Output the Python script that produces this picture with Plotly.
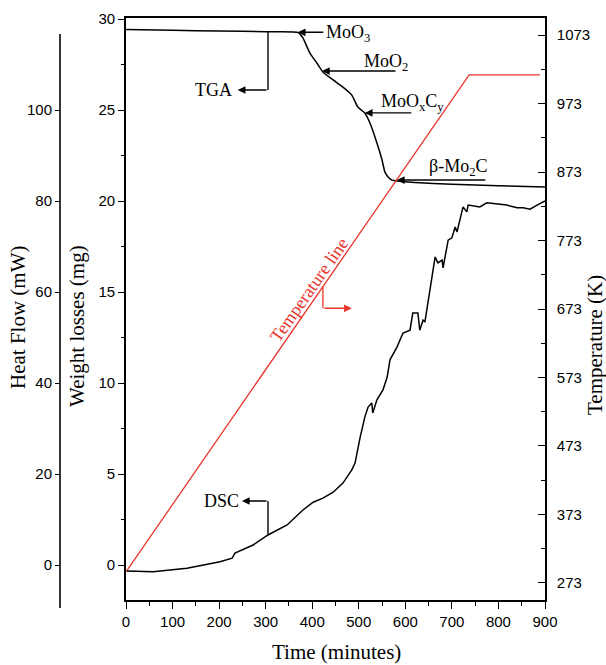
import plotly.graph_objects as go

# ---------------- data ----------------
time_tga = [0, 100, 200, 300, 370, 380, 395, 410, 423, 445, 466, 485, 498, 513,
            524, 539, 550, 556, 563, 571, 582, 620, 700, 800, 900]
weight_tga = [29.42, 29.38, 29.34, 29.30, 29.26, 28.96, 28.13, 27.58, 27.09, 26.65,
              26.26, 25.82, 25.16, 24.84, 24.29, 23.19, 22.25, 21.60, 21.32, 21.15,
              21.10, 21.02, 20.92, 20.84, 20.77]

time_dsc = [2, 58, 131, 202, 228, 234, 273, 305, 346, 380, 402, 423, 445, 466, 485,
            492, 503, 513, 520, 528, 530, 539, 552, 561, 567, 582, 595, 610, 616,
            627, 631, 638, 642, 653, 664, 670, 679, 681, 692, 700, 707, 711, 717,
            724, 732, 735, 760, 775, 818, 840, 853, 868, 883, 900]
heat_dsc = [-1.3, -1.5, -0.7, 0.7, 1.5, 2.6, 4.4, 6.6, 8.8, 12.1, 13.8, 14.7, 16.0,
            18.0, 20.9, 22.4, 28.1, 32.5, 34.7, 35.6, 33.4, 36.3, 38.5, 41.3, 45.1,
            47.9, 51.0, 51.6, 55.4, 55.4, 51.6, 53.8, 53.4, 61.1, 67.7, 66.4, 67.0,
            65.3, 71.4, 71.9, 74.3, 73.2, 75.8, 78.7, 77.6, 79.1, 78.7, 79.6, 79.1,
            78.5, 78.5, 78.2, 79.1, 80.0]

time_temp = [0, 737, 889]
temp_k = [289, 1015, 1015]

x_ticks = list(range(0, 901, 100))
x_minor = list(range(50, 900, 100))
weight_ticks = [0, 5, 10, 15, 20, 25, 30]
weight_minor = [2.5, 7.5, 12.5, 17.5, 22.5, 27.5]
heat_ticks = [0, 20, 40, 60, 80, 100]
temp_ticks = list(range(273, 1074, 100))
temp_minor = list(range(323, 1074, 100))

# ---------------- layout helpers ----------------
W, H = 606, 665
OFF = 0            # body margin removed by post_script below
TOP, BOT = 18, 600  # plot box top / bottom on screen
MT = TOP - OFF
MB = H - (BOT - OFF)
PH = H - MT - MB


def px(xp):
    return (xp - OFF) / W


def py(yp):
    return (BOT - yp) / PH


SANS = "Liberation Sans, Arial, sans-serif"
SERIF = "Liberation Serif, Times New Roman, serif"
RED = "#e8362d"

fig = go.Figure()
fig.add_trace(go.Scatter(x=time_tga, y=weight_tga, mode="lines", yaxis="y",
                         line=dict(color="black", width=1.5, shape="spline", smoothing=0.5),
                         showlegend=False, hoverinfo="skip"))
fig.add_trace(go.Scatter(x=time_dsc, y=heat_dsc, mode="lines", yaxis="y3",
                         line=dict(color="black", width=1.5),
                         showlegend=False, hoverinfo="skip"))
fig.add_trace(go.Scatter(x=time_temp, y=temp_k, mode="lines", yaxis="y2",
                         line=dict(color=RED, width=1.3),
                         showlegend=False, hoverinfo="skip"))

tickfont = dict(family=SANS, size=15, color="black")

fig.update_layout(
    width=W, height=H,
    margin=dict(l=0, r=0, t=MT, b=MB, autoexpand=False),
    paper_bgcolor="white", plot_bgcolor="white",
    xaxis=dict(domain=[px(126), px(545)], range=[0, 900], tickmode="array",
               tickvals=x_ticks, ticks="outside", ticklen=7, tickwidth=1.3,
               tickcolor="black", showline=True, linewidth=1.6, linecolor="black",
               mirror=True, showgrid=False, zeroline=False, tickfont=tickfont,
               automargin=False,
               minor=dict(tickvals=x_minor, ticks="outside", ticklen=4,
                          tickwidth=1.2, tickcolor="black", showgrid=False)),
    yaxis=dict(range=[-1.923, 30.055], tickmode="array", tickvals=weight_ticks,
               ticks="outside", ticklen=6, tickwidth=1.3, tickcolor="black",
               showline=True, linewidth=1.6, linecolor="black", showgrid=False,
               zeroline=False, tickfont=tickfont, automargin=False,
               minor=dict(tickvals=weight_minor, ticks="outside", ticklen=3,
                          tickwidth=1.2, tickcolor="black", showgrid=False)),
    yaxis2=dict(overlaying="y", side="right", anchor="x", range=[248, 1098],
                tickmode="array", tickvals=temp_ticks, ticks="inside", ticklen=7,
                tickwidth=1.3, tickcolor="black", showline=True, linewidth=1.6,
                linecolor="black", showgrid=False, zeroline=False,
                tickfont=tickfont, automargin=False, ticklabelstandoff=7,
                minor=dict(tickvals=temp_minor, ticks="inside", ticklen=4,
                           tickwidth=1.2, tickcolor="black", showgrid=False)),
    yaxis3=dict(overlaying="y", side="left", anchor="free", position=px(60),
                range=[-7.69, 120.22], tickmode="array", tickvals=heat_ticks,
                ticks="outside", ticklen=5, tickwidth=1.3, tickcolor="black",
                showline=False, showgrid=False, zeroline=False,
                tickfont=tickfont, automargin=False),
)

# separate heat-flow axis line (extends slightly beyond the plot box)
fig.add_shape(type="line", xref="paper", yref="paper", x0=px(60), x1=px(60),
              y0=py(608), y1=py(34), line=dict(color="black", width=1.6))

# axis titles
title_font = dict(family=SERIF, size=21, color="black")


def title(text, xp, yp, angle=0):
    fig.add_annotation(text=text, xref="paper", yref="paper", x=px(xp), y=py(yp),
                       xanchor="center", yanchor="middle", showarrow=False,
                       textangle=angle, font=title_font)


title("Time (minutes)", 336, 652)
title("Heat Flow (mW)", 18, 318, -90)
title("Weight losses (mg)", 77, 326, -90)
title("Temperature (K)", 595, 345, -90)


def arrow(tip_x, tip_y, tail_x, tail_y, yref="y", color="black"):
    fig.add_annotation(x=tip_x, y=tip_y, ax=tail_x, ay=tail_y, xref="x", yref=yref,
                       axref="x", ayref=yref, text="", showarrow=True,
                       arrowhead=2, arrowsize=1.1, arrowwidth=1.4, arrowcolor=color)


def label(text, x, y, yref="y", xanchor="center", color="black", angle=0, size=18):
    fig.add_annotation(x=x, y=y, xref="x", yref=yref, text=text, showarrow=False,
                       xanchor=xanchor, yanchor="middle", textangle=angle,
                       font=dict(family=SERIF, size=size, color=color))


# phase labels on TGA
arrow(369, 29.27, 427, 29.27)
label("MoO<sub>3</sub>", 425, 29.22, xanchor="left")
arrow(421, 27.14, 582, 27.14)
label("MoO<sub>2</sub>", 558, 27.6)
arrow(513, 24.84, 616, 24.84)
label("MoO<sub>x</sub>C<sub>y</sub>", 615, 25.4)
arrow(582, 21.15, 775, 21.15)
label("β-Mo<sub>2</sub>C", 714, 21.82)

# TGA bracket
fig.add_shape(type="line", xref="x", yref="y", x0=305, x1=305, y0=29.29, y1=26.10,
              line=dict(color="black", width=1.4))
arrow(240, 26.10, 305, 26.10)
label("TGA", 189, 26.10)

# DSC bracket
fig.add_shape(type="line", xref="x", yref="y3", x0=305, x1=305, y0=6.6, y1=14.07,
              line=dict(color="black", width=1.4))
arrow(249, 14.07, 305, 14.07, yref="y3")
label("DSC", 206, 14.07, yref="y3")

# temperature line label + bracket
fig.add_shape(type="line", xref="x", yref="y2", x0=423, x1=423, y0=706, y1=674,
              line=dict(color=RED, width=1.3))
arrow(485, 674, 423, 674, yref="y2", color=RED)
label("Temperature line", 393, 701, yref="y2", color=RED, angle=-55, size=18)

fig.write_html("out.html",
               config={"displayModeBar": False},
               post_script="document.body.style.margin='0';"
                           "document.body.style.overflow='hidden';")
